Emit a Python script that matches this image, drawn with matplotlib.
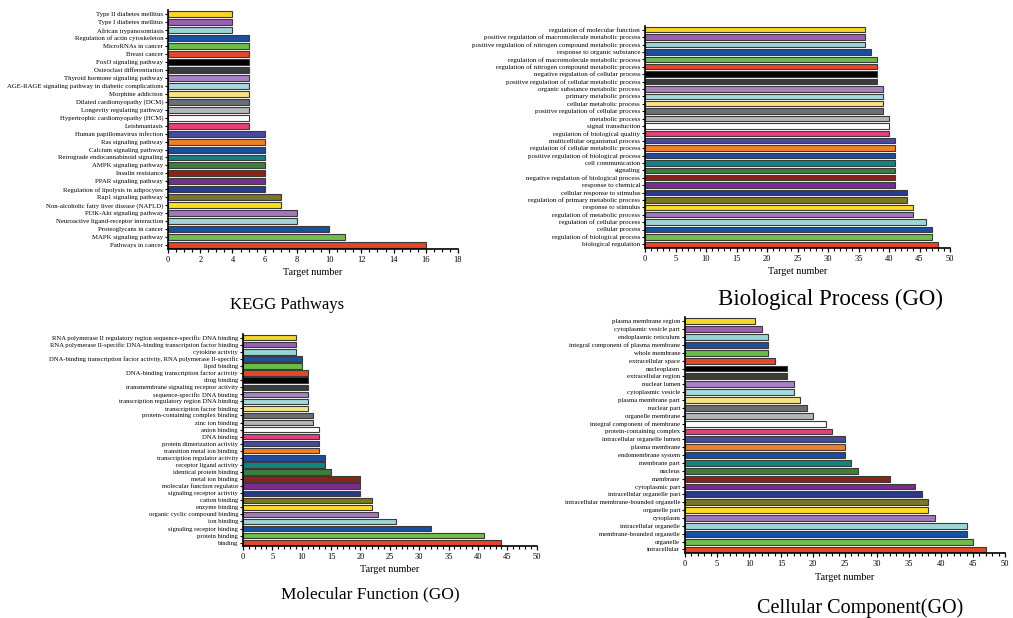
import numpy as np
import matplotlib
matplotlib.use("Agg")
import matplotlib.pyplot as plt
from matplotlib.ticker import MultipleLocator

plt.rcParams['font.family'] = ['Liberation Serif', 'DejaVu Serif']

# colour sequence, applied from the top bar downwards (same in all four panels)
palette = ['#F7D52A', '#9B5FB4', '#9AD3D6', '#1F4E9E', '#6BBD4A', '#E8462A',
           '#000000', '#3A3C3D', '#A882C4', '#A5D8DC', '#F9E380', '#6C6F70',
           '#B3B6B8', '#FFFFFF', '#E83E7E', '#464B9E', '#F07F2C', '#1C4E9D',
           '#148482', '#3E7D3A', '#8B2418', '#7B2C90', '#283B8A', '#7D7623',
           '#FDDD1F', '#A277BD', '#9ED6D8', '#1751A2', '#70BF4B', '#EA4423']

# ---- KEGG pathways (top to bottom)
kegg_terms = ["Type II diabetes mellitus", "Type I diabetes mellitus", "African trypanosomiasis",
              "Regulation of actin cytoskeleton", "MicroRNAs in cancer", "Breast cancer",
              "FoxO signaling pathway", "Osteoclast differentiation", "Thyroid hormone signaling pathway",
              "AGE-RAGE signaling pathway in diabetic complications", "Morphine addiction",
              "Dilated cardiomyopathy (DCM)", "Longevity regulating pathway",
              "Hypertrophic cardiomyopathy (HCM)", "Leishmaniasis", "Human papillomavirus infection",
              "Ras signaling pathway", "Calcium signaling pathway", "Retrograde endocannabinoid signaling",
              "AMPK signaling pathway", "Insulin resistance", "PPAR signaling pathway",
              "Regulation of lipolysis in adipocytes", "Rap1 signaling pathway",
              "Non-alcoholic fatty liver disease (NAFLD)", "PI3K-Akt signaling pathway",
              "Neuroactive ligand-receptor interaction", "Proteoglycans in cancer",
              "MAPK signaling pathway", "Pathways in cancer"]
kegg_counts = [4, 4, 4, 5, 5, 5, 5, 5, 5, 5, 5, 5, 5, 5, 5, 6, 6, 6, 6, 6, 6, 6, 6, 7, 7, 8, 8, 10, 11, 16]

# ---- Biological process
bp_terms = ["regulation of molecular function", "positive regulation of macromolecule metabolic process",
            "positive regulation of nitrogen compound metabolic process", "response to organic substance",
            "regulation of macromolecule metabolic process", "regulation of nitrogen compound metabolic process",
            "negative regulation of cellular process", "positive regulation of cellular metabolic process",
            "organic substance metabolic process", "primary metabolic process", "cellular metabolic process",
            "positive regulation of cellular process", "metabolic process", "signal transduction",
            "regulation of biological quality", "multicellular organismal process",
            "regulation of cellular metabolic process", "positive regulation of biological process",
            "cell communication", "signaling", "negative regulation of biological process",
            "response to chemical", "cellular response to stimulus", "regulation of primary metabolic process",
            "response to stimulus", "regulation of metabolic process", "regulation of cellular process",
            "cellular process", "regulation of biological process", "biological regulation"]
bp_counts = [36, 36, 36, 37, 38, 38, 38, 38, 39, 39, 39, 39, 40, 40, 40, 41, 41, 41, 41, 41, 41, 41,
             43, 43, 44, 44, 46, 47, 47, 48]

# ---- Molecular function
mf_terms = ["RNA polymerase II regulatory region sequence-specific DNA binding",
            "RNA polymerase II-specific DNA-binding transcription factor binding", "cytokine activity",
            "DNA-binding transcription factor activity, RNA polymerase II-specific", "lipid binding",
            "DNA-binding transcription factor activity", "drug binding",
            "transmembrane signaling receptor activity", "sequence-specific DNA binding",
            "transcription regulatory region DNA binding", "transcription factor binding",
            "protein-containing complex binding", "zinc ion binding", "anion binding", "DNA binding",
            "protein dimerization activity", "transition metal ion binding", "transcription regulator activity",
            "receptor ligand activity", "identical protein binding", "metal ion binding",
            "molecular function regulator", "signaling receptor activity", "cation binding", "enzyme binding",
            "organic cyclic compound binding", "ion binding", "signaling receptor binding", "protein binding",
            "binding"]
mf_counts = [9, 9, 9, 10, 10, 11, 11, 11, 11, 11, 11, 12, 12, 13, 13, 13, 13, 14, 14, 15, 20, 20, 20,
             22, 22, 23, 26, 32, 41, 44]

# ---- Cellular component
cc_terms = ["plasma membrane region", "cytoplasmic vesicle part", "endoplasmic reticulum",
            "integral component of plasma membrane", "whole membrane", "extracellular space", "nucleoplasm",
            "extracellular region", "nuclear lumen", "cytoplasmic vesicle", "plasma membrane part",
            "nuclear part", "organelle membrane", "integral component of membrane", "protein-containing complex",
            "intracellular organelle lumen", "plasma membrane", "endomembrane system", "membrane part",
            "nucleus", "membrane", "cytoplasmic part", "intracellular organelle part",
            "intracellular membrane-bounded organelle", "organelle part", "cytoplasm", "intracellular organelle",
            "membrane-bounded organelle", "organelle", "intracellular"]
cc_counts = [11, 12, 13, 13, 13, 14, 16, 16, 17, 17, 18, 19, 20, 22, 23, 25, 25, 25, 26, 27, 32, 36, 37,
             38, 38, 39, 44, 44, 45, 47]

W, H = 1013, 618
fig = plt.figure(figsize=(W / 100, H / 100), dpi=100)


def px_axes(x0, y0, x1, y1):
    return fig.add_axes([x0 / W, 1 - y1 / H, (x1 - x0) / W, (y1 - y0) / H])


def bar_panel(ax, terms, counts, xmax, major, minor, label_size):
    n = len(terms)
    y = np.arange(n)[::-1]
    ax.barh(y, counts, height=0.75, color=palette[:n], edgecolor='#3a3a3a', linewidth=0.8)
    ax.set_ylim(-0.5, n - 0.5)
    ax.set_xlim(0, xmax)
    ax.set_yticks(y)
    ax.set_yticklabels(terms, fontsize=label_size)
    ax.xaxis.set_major_locator(MultipleLocator(major))
    ax.xaxis.set_minor_locator(MultipleLocator(minor))
    ax.tick_params(axis='x', labelsize=6, length=3, width=0.9, pad=2)
    ax.tick_params(axis='x', which='minor', length=1.8, width=0.8)
    ax.tick_params(axis='y', length=2, width=0.8, pad=1.5)
    for s in ['top', 'right']:
        ax.spines[s].set_visible(False)
    for s in ['left', 'bottom']:
        ax.spines[s].set_linewidth(1.2)
    ax.set_xlabel("Target number", fontsize=7.3, labelpad=3)


ax1 = px_axes(168, 10.3, 458, 249)
bar_panel(ax1, kegg_terms, kegg_counts, 18, 2, 0.5, 4.9)

ax2 = px_axes(645, 26, 950, 248)
bar_panel(ax2, bp_terms, bp_counts, 50, 5, 1, 5.0)

ax3 = px_axes(243, 334.2, 536.7, 546.2)
bar_panel(ax3, mf_terms, mf_counts, 50, 5, 1, 4.8)

ax4 = px_axes(685, 317.4, 1005, 553.4)
bar_panel(ax4, cc_terms, cc_counts, 50, 5, 1, 4.9)

fig.text(287 / W, 1 - 305 / H, "KEGG Pathways", fontsize=12, ha='center', va='center')
fig.text(830 / W, 1 - 299 / H, "Biological Process (GO)", fontsize=16.5, ha='center', va='center')
fig.text(370 / W, 1 - 594 / H, "Molecular Function (GO)", fontsize=12.5, ha='center', va='center')
fig.text(860 / W, 1 - 608 / H, "Cellular Component(GO)", fontsize=14.5, ha='center', va='center')

fig.savefig("out.png", dpi=100)
